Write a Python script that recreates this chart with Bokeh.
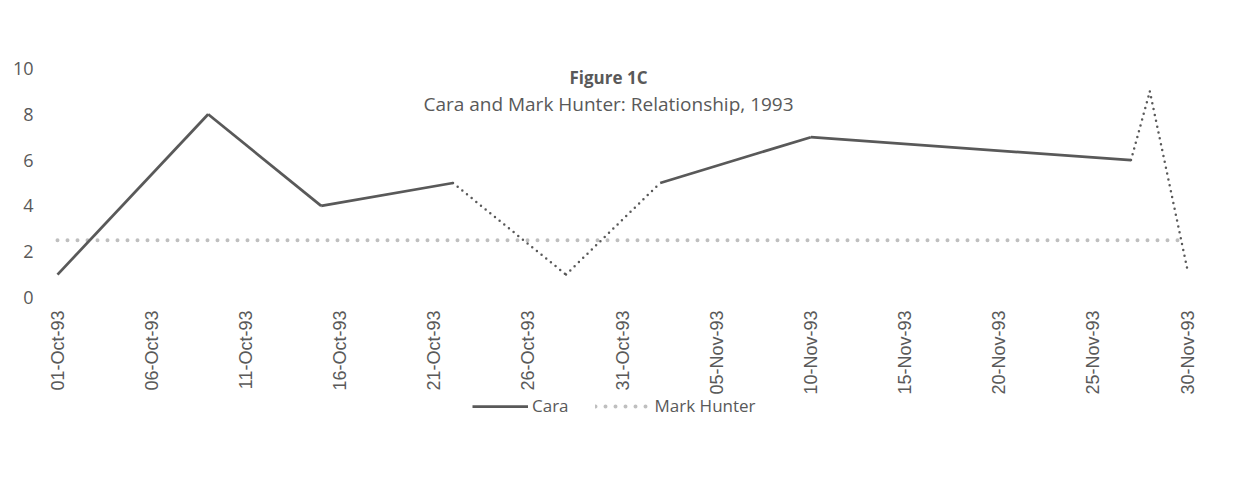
import datetime as dt
import math
from bokeh.plotting import figure
from bokeh.models import (Range1d, FixedTicker, Legend, LegendItem, Label,
                          ColumnDataSource)
from bokeh.core.properties import value
from bokeh.embed import file_html
from bokeh.resources import INLINE

# ---------------- data ----------------
cara_dates = ["1993-10-01", "1993-10-09", "1993-10-15", "1993-10-22", "1993-10-28",
              "1993-11-02", "1993-11-10", "1993-11-27", "1993-11-28", "1993-11-30"]
cara_values = [1, 8, 4, 5, 1, 5, 7, 6, 9, 1.2]
# segments of the Cara line drawn dotted (index of the segment's first point)
cara_dotted_segments = [3, 4, 7, 8]

mark_dates = ["1993-10-01", "1993-11-30"]
mark_values = [2.5, 2.5]

tick_labels = ["01-Oct-93", "06-Oct-93", "11-Oct-93", "16-Oct-93", "21-Oct-93",
               "26-Oct-93", "31-Oct-93", "05-Nov-93", "10-Nov-93", "15-Nov-93",
               "20-Nov-93", "25-Nov-93", "30-Nov-93"]
y_ticks = [0, 2, 4, 6, 8, 10]

title_text = "Figure 1C"
subtitle_text = "Cara and Mark Hunter: Relationship, 1993"

# ---------------- helpers ----------------
def to_dt(s):
    return dt.datetime.strptime(s, "%Y-%m-%d")

cx = [to_dt(d) for d in cara_dates]
mx = [to_dt(d) for d in mark_dates]
tick_dt = [dt.datetime.strptime(t, "%d-%b-%y") for t in tick_labels]

# build solid / dotted segment lists
solid_xs, solid_ys, dot_xs, dot_ys = [], [], [], []
for i in range(len(cx) - 1):
    seg_x = [cx[i], cx[i + 1]]
    seg_y = [cara_values[i], cara_values[i + 1]]
    if i in cara_dotted_segments:
        dot_xs.append(seg_x); dot_ys.append(seg_y)
    else:
        solid_xs.append(seg_x); solid_ys.append(seg_y)

TEXT = "#595959"
LINE = "#595959"
MARK = "#BFBFBF"
FONT = "Open Sans"

# layout (pixels)
DATA_W = 1130          # pixels spanned by the date range
PAD_X = 20             # extra frame room on each side for the end labels
PLOT_H = 229           # pixels for 0..10
BELOW_H = 133          # room below 0 for rotated labels and legend
span_days = (tick_dt[-1] - tick_dt[0]).days
pad = dt.timedelta(days=PAD_X * span_days / DATA_W)
y_min = -BELOW_H * y_ticks[-1] / PLOT_H

p = figure(frame_width=DATA_W + 2 * PAD_X, frame_height=PLOT_H + BELOW_H,
           x_axis_type="datetime",
           x_range=Range1d(tick_dt[0] - pad, tick_dt[-1] + pad),
           y_range=Range1d(y_min, y_ticks[-1]),
           output_backend="svg", toolbar_location=None,
           min_border_left=57 - PAD_X, min_border_right=41 - PAD_X,
           min_border_top=68, min_border_bottom=10)
p.outline_line_color = None
p.grid.visible = False
p.background_fill_color = "white"
p.border_fill_color = "white"
p.xaxis.visible = False

mark_r = p.line(mx, mark_values, line_color=MARK, line_width=4,
                line_dash="0 10", line_cap="round")
solid_r = p.multi_line(solid_xs, solid_ys, line_color=LINE, line_width=2.75,
                       line_join="miter")
dot_r = p.multi_line(dot_xs, dot_ys, line_color=LINE, line_width=2.5,
                     line_dash="0 6", line_cap="round")

# rotated date tick labels, placed by the x scale under y = 0
tick_src = ColumnDataSource(dict(x=tick_dt, y=[y_ticks[0]] * len(tick_dt),
                                 text=tick_labels))
p.text(x="x", y="y", text="text", source=tick_src, angle=math.pi / 2,
       text_align="right", text_baseline="middle", y_offset=13,
       text_font=value("Liberation Sans"), text_font_size=value("18px"),
       text_color=TEXT)

ya = p.yaxis[0]
ya.ticker = FixedTicker(ticks=y_ticks)
ya.axis_line_color = None
ya.major_tick_line_color = None
ya.minor_tick_line_color = None
ya.major_tick_in = 0
ya.major_tick_out = 0
ya.major_label_standoff = 24 - PAD_X
ya.major_label_text_font = FONT
ya.major_label_text_font_size = "18px"
ya.major_label_text_color = TEXT

# titles
p.add_layout(Label(x=PAD_X + 551, y=BELOW_H + 220, x_units="screen", y_units="screen",
                   text=title_text, text_align="center", text_baseline="alphabetic",
                   text_font=FONT, text_font_style="bold", text_font_size="17px",
                   text_color=TEXT))
p.add_layout(Label(x=PAD_X + 551, y=BELOW_H + 194, x_units="screen", y_units="screen",
                   text=subtitle_text, text_align="center", text_baseline="alphabetic",
                   text_font=FONT, text_font_size="19px", text_color=TEXT))

legend = Legend(items=[LegendItem(label="Cara", renderers=[solid_r]),
                       LegendItem(label="Mark Hunter", renderers=[mark_r])],
                orientation="horizontal", location=(PAD_X + 415, 13),
                glyph_width=56, glyph_height=20, label_standoff=4, spacing=26,
                padding=0, margin=0, border_line_color=None,
                background_fill_alpha=0,
                label_text_font=FONT, label_text_font_size="17px",
                label_text_color=TEXT)
p.add_layout(legend, "center")

open("out.html", "w").write(file_html(p, INLINE))
